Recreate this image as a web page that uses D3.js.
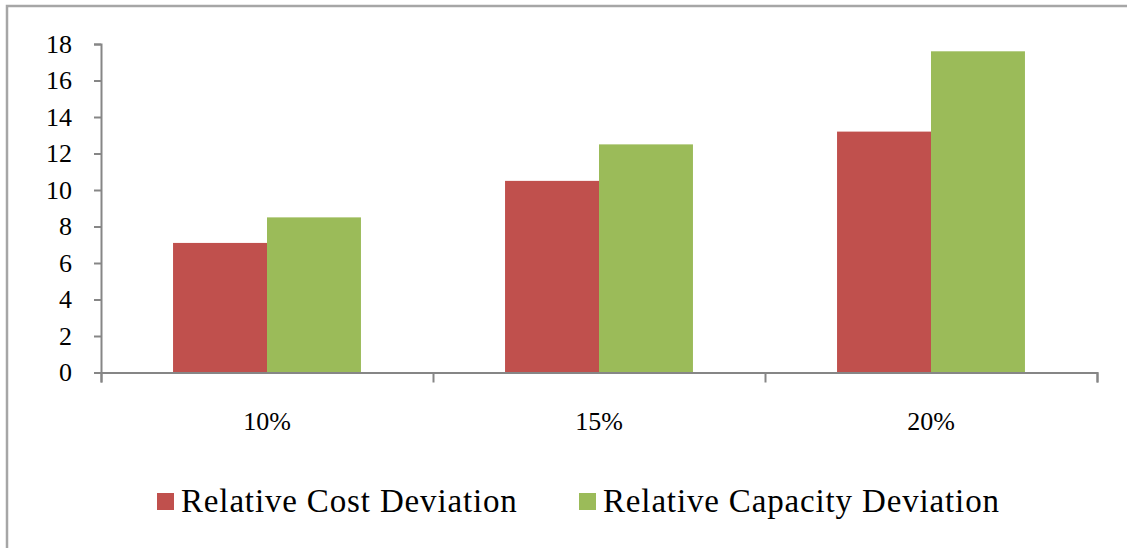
<!DOCTYPE html>
<html>
<head>
<meta charset="utf-8">
<script src="https://cdn.jsdelivr.net/npm/d3@7"></script>
<style>
  body { margin: 0; background: #fff; }
  text { font-family: "Liberation Serif", "Times New Roman", serif; fill: #000; }
</style>
</head>
<body>
<div id="chart"></div>
<script>
// data
var categories = ["10%", "15%", "20%"];
var seriesNames = ["Relative Cost Deviation", "Relative Capacity Deviation"];
var costValues = [7.1, 10.5, 13.2];
var capacityValues = [8.5, 12.5, 17.6];
var yTicks = [0, 2, 4, 6, 8, 10, 12, 14, 16, 18];
var colors = ["#C0504D", "#9BBB59"];

var W = 1127, H = 548;
var margin = { top: 44, right: 30, bottom: 175, left: 101 };
var width = 1097 - margin.left;
var height = 372.5 - margin.top;

var svg = d3.select("#chart").append("svg")
  .attr("width", W)
  .attr("height", H);

// outer frame (right and bottom edges run off the picture)
svg.append("rect")
  .attr("x", 7).attr("y", 6)
  .attr("width", W + 20).attr("height", H + 20)
  .attr("fill", "none")
  .attr("stroke", "#a6a6a6")
  .attr("stroke-width", 2.5);

var g = svg.append("g")
  .attr("transform", "translate(" + margin.left + "," + margin.top + ")");

var x0 = d3.scaleBand()
  .domain(categories)
  .range([0, width])
  .paddingInner(0.434)
  .paddingOuter(0.217);

var x1 = d3.scaleBand()
  .domain(seriesNames)
  .range([0, x0.bandwidth()]);

var y = d3.scaleLinear()
  .domain([0, 18])
  .range([height, 0]);

var rows = categories.map(function(c, i) {
  return { cat: c, vals: [costValues[i], capacityValues[i]] };
});

// bars
var groups = g.selectAll(".grp")
  .data(rows)
  .enter().append("g")
  .attr("transform", d => "translate(" + x0(d.cat) + ",0)");

groups.selectAll("rect")
  .data(d => d.vals.map((v, j) => ({ name: seriesNames[j], v: v, j: j })))
  .enter().append("rect")
  .attr("x", d => x1(d.name))
  .attr("y", d => y(d.v))
  .attr("width", x1.bandwidth())
  .attr("height", d => height - y(d.v))
  .attr("fill", d => colors[d.j]);

// y axis
var yAxis = g.append("g")
  .call(d3.axisLeft(y).tickValues(yTicks).tickSize(7).tickPadding(22));
yAxis.select(".domain").attr("stroke", "#868686").attr("stroke-width", 2);
yAxis.selectAll(".tick line").attr("stroke", "#868686").attr("stroke-width", 2);
yAxis.selectAll(".tick text")
  .style("font-size", "26px")
  .attr("fill", "#000");

// x axis: ticks sit at category boundaries
var xBound = d3.scaleLinear().domain([0, categories.length]).range([0, width]);
var xAxis = g.append("g")
  .attr("transform", "translate(0," + height + ")")
  .call(d3.axisBottom(xBound).tickValues([0, 1, 2, 3]).tickSize(10).tickFormat(""));
xAxis.select(".domain").attr("stroke", "#868686").attr("stroke-width", 2);
xAxis.selectAll(".tick line").attr("stroke", "#868686").attr("stroke-width", 2);

g.selectAll(".xlab")
  .data(categories)
  .enter().append("text")
  .attr("x", d => x0(d) + x0.bandwidth() / 2)
  .attr("y", height + 57)
  .attr("text-anchor", "middle")
  .style("font-size", "26px")
  .text(d => d);

// legend
var legendX = [157, 579];
var legend = svg.selectAll(".leg")
  .data(seriesNames)
  .enter().append("g")
  .attr("transform", (d, i) => "translate(" + legendX[i] + ",493)");

legend.append("rect")
  .attr("width", 17).attr("height", 17)
  .attr("fill", (d, i) => colors[i]);

legend.append("text")
  .attr("x", 24)
  .attr("y", 19)
  .style("font-size", "33px")
  .style("letter-spacing", "0.85px")
  .text(d => d);
</script>
</body>
</html>
